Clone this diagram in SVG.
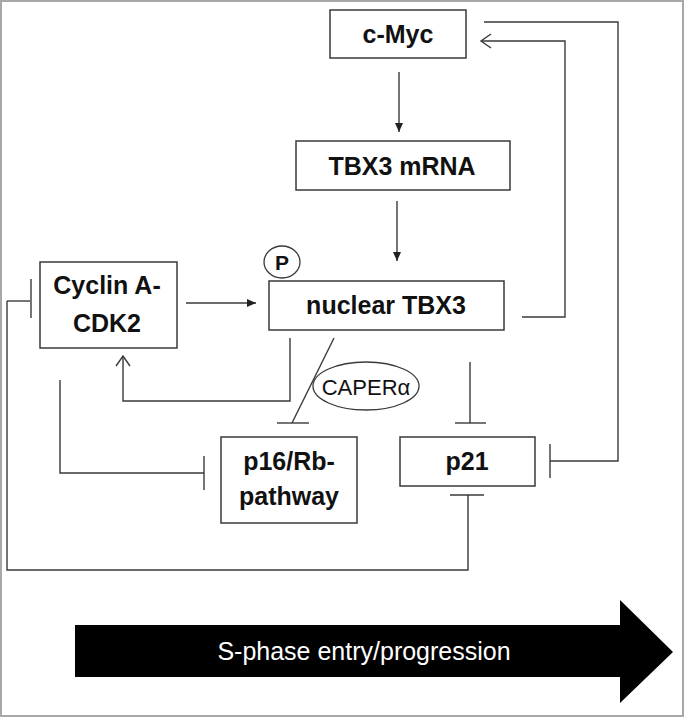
<svg xmlns="http://www.w3.org/2000/svg" width="684" height="717" viewBox="0 0 684 717">
<defs>
<style>
.box{fill:#fff;stroke:#3a3a3a;stroke-width:1.5}
.ln{fill:none;stroke:#3a3a3a;stroke-width:1.4}
.lbl{font-family:"Liberation Sans",Arial,sans-serif;font-weight:bold;font-size:25px;fill:#111;text-anchor:middle}
.reg{font-family:"Liberation Sans",Arial,sans-serif;font-size:22px;fill:#111;text-anchor:middle}
</style>
<marker id="fill" markerWidth="10" markerHeight="10" refX="9" refY="5" orient="auto" markerUnits="userSpaceOnUse">
<path d="M0,1 L9,5 L0,9 Z" fill="#222"/>
</marker>
<marker id="open" markerWidth="14" markerHeight="16" refX="12" refY="8" orient="auto" markerUnits="userSpaceOnUse">
<path d="M2,1 L12,8 L2,15" fill="none" stroke="#3a3a3a" stroke-width="1.4"/>
</marker>
</defs>
<rect x="0" y="0" width="684" height="717" fill="#fff"/>
<rect x="1" y="1" width="682" height="715" fill="none" stroke="#a8a8a8" stroke-width="2"/>

<g id="connectors">
<line class="ln" x1="399" y1="72" x2="399" y2="132" marker-end="url(#fill)"/>
<line class="ln" x1="397" y1="201" x2="397" y2="261" marker-end="url(#fill)"/>
<line class="ln" x1="186" y1="303" x2="256" y2="303" marker-end="url(#fill)"/>
<polyline class="ln" points="522,317 565,317 565,41 481,41" marker-end="url(#open)"/>
<polyline class="ln" points="484,22 618,22 618,461 550,461"/>
<line class="ln" x1="550" y1="444" x2="550" y2="478"/>
<polyline class="ln" points="290,338 290,401 123,401 123,356" marker-end="url(#open)"/>
<line class="ln" x1="334" y1="338" x2="292" y2="423"/>
<line class="ln" x1="277" y1="423" x2="309" y2="423"/>
<line class="ln" x1="470" y1="362" x2="470" y2="423"/>
<line class="ln" x1="455" y1="423" x2="486" y2="423"/>
<polyline class="ln" points="60,380 60,473 204,473"/>
<line class="ln" x1="204" y1="456" x2="204" y2="490"/>
<polyline class="ln" points="7,301 30,301"/>
<line class="ln" x1="31" y1="279" x2="31" y2="318"/>
<polyline class="ln" points="7,301 7,570 468,570 468,495"/>
<line class="ln" x1="450" y1="495" x2="484" y2="495"/>
</g>

<g id="cmyc">
<rect class="box" x="330" y="10" width="136" height="48"/>
<text class="lbl" x="398" y="43">c-Myc</text>
</g>
<g id="tbx3mrna">
<rect class="box" x="296" y="141" width="214" height="49"/>
<text class="lbl" x="402" y="175">TBX3 mRNA</text>
</g>
<g id="nucleartbx3">
<rect class="box" x="269" y="281" width="235" height="49"/>
<text class="lbl" x="386" y="314">nuclear TBX3</text>
</g>
<g id="phospho">
<ellipse cx="282" cy="262" rx="18" ry="16" fill="#fff" stroke="#3a3a3a" stroke-width="1.3"/>
<text class="lbl" x="282" y="270" style="font-size:21px">P</text>
</g>
<g id="cyclin">
<rect class="box" x="40" y="262" width="137" height="86"/>
<text class="lbl" x="107" y="294">Cyclin A-</text>
<text class="lbl" x="107" y="332">CDK2</text>
</g>
<g id="caper">
<ellipse cx="366" cy="386" rx="53" ry="24" fill="#fff" stroke="#3a3a3a" stroke-width="1.3"/>
<text class="reg" x="366" y="395">CAPERα</text>
</g>
<g id="p16">
<rect class="box" x="221" y="437" width="136" height="86"/>
<text class="lbl" x="289" y="470">p16/Rb-</text>
<text class="lbl" x="289" y="505">pathway</text>
</g>
<g id="p21">
<rect class="box" x="400" y="437" width="135" height="49"/>
<text class="lbl" x="467" y="470">p21</text>
</g>
<g id="sphase">
<polygon points="75,625 620,625 620,600 673,652 620,703 620,677 75,677" fill="#000"/>
<text class="reg" x="364" y="660" style="fill:#fff;font-size:25px">S-phase entry/progression</text>
</g>
</svg>
